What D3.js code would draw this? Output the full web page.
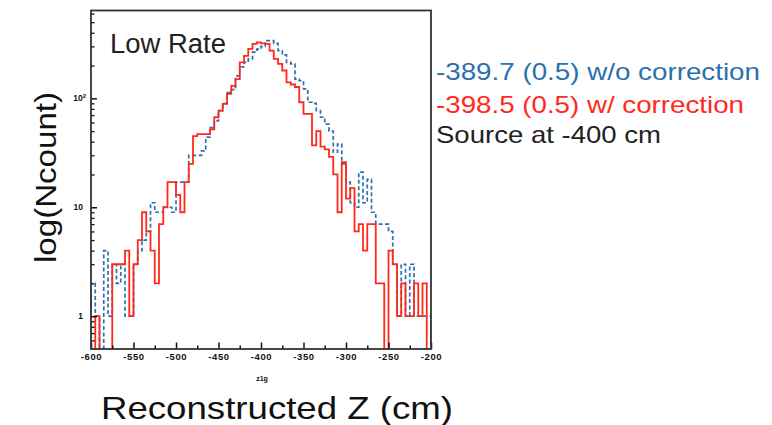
<!DOCTYPE html>
<html><head><meta charset="utf-8">
<script src="https://cdn.jsdelivr.net/npm/d3@7"></script>
<style>body{margin:0;background:#fff}svg{display:block}</style>
</head><body>
<svg id="c" width="772" height="425"></svg>
<script>
// ---- data ----
const xDomain = [-600, -200];
const binWidth = 5;
const countsNoCorr = [
  2,1,0,4,1,3,2,3,1,1,
  3,4,5,6,11,9,9,10,10,9,
  17,17,17,30,30,30,33,44,54,62,
  77,90,113,120,161,194,214,230,265,283,
  300,338,338,320,274,250,214,207,150,145,
  122,92,90,77,67,58,50,32,38,25,
  17,11,10,21,11,18,9,7,7,7,
  6,3,1,3,1,3,1,1,1,1];
const countsCorr = [
  0,1,0,0,0,3,3,3,4,1,
  3,5,9,6,4,2,7,10,17,17,
  13,9,17,25,45,47,47,47,52,67,
  77,89,110,130,150,214,245,285,316,326,
  320,316,274,230,207,180,140,134,127,92,
  72,72,37,50,36,34,29,20,9,26,
  12,15,6,7,4,7,7,2,2,0,
  4,3,1,2,1,1,2,1,2,0];
const xMajorTicks = [-600,-550,-500,-450,-400,-350,-300,-250,-200];
const xMinorTicks = [-575,-525,-475,-425,-375,-325,-275,-225];
const yMajorTicks = [1,10,100];
const yMinorTicks = [0.6,0.7,0.8,0.9,2,3,4,5,6,7,8,9,20,30,40,50,60,70,80,90,200,300,400,500,600];
const yTickText = [{v:1,base:"1",sup:""},{v:10,base:"10",sup:""},{v:100,base:"10",sup:"2"}];
const legendTexts = ["-389.7 (0.5) w/o correction","-398.5 (0.5) w/ correction","Source at -400 cm"];
const colNoCorr = "#2c70ad", colCorr = "#ff2a1c";

// ---- layout ----
const svg = d3.select("#c");
const L = 91, R = 431, T = 10.5, B = 349;
const x = d3.scaleLinear().domain(xDomain).range([L, R]);
const y = d3.scaleLog().domain([0.5, 640]).range([B, T]);

svg.append("defs").append("clipPath").attr("id","fr")
  .append("rect").attr("x",L).attr("y",T).attr("width",R-L).attr("height",B-T);

function histPath(counts){
  const pts = [[x(xDomain[0]), B+2]];
  counts.forEach((c,i)=>{
    const lo = xDomain[0] + i*binWidth, hi = lo + binWidth;
    const yy = c > 0 ? y(c) : B+2;
    pts.push([x(lo), yy]); pts.push([x(hi), yy]);
  });
  pts.push([x(xDomain[0] + counts.length*binWidth), B+2]);
  return d3.line()(pts);
}

const g = svg.append("g").attr("clip-path","url(#fr)");
g.append("path").attr("d", histPath(countsNoCorr)).attr("fill","none")
  .attr("stroke", colNoCorr).attr("stroke-width",1.7).attr("stroke-dasharray","4,2.5");
g.append("path").attr("d", histPath(countsCorr)).attr("fill","none")
  .attr("stroke", colCorr).attr("stroke-width",1.8);

// axes
const axX = svg.append("g").attr("transform",`translate(0,${B})`)
  .call(d3.axisBottom(x).tickValues(xMajorTicks).tickSize(-6.5).tickPadding(4).tickFormat(d=>String(d)));
axX.select(".domain").remove();
axX.selectAll("line").attr("stroke","#111").attr("stroke-width",1.5);
axX.selectAll("text").attr("font-family","Liberation Sans, Arial, sans-serif")
  .attr("font-size",9.5).attr("font-weight","bold").attr("fill","#111").attr("letter-spacing",0.6);
const axXm = svg.append("g").attr("transform",`translate(0,${B})`)
  .call(d3.axisBottom(x).tickValues(xMinorTicks).tickSize(-3.5).tickFormat(""));
axXm.select(".domain").remove();
axXm.selectAll("line").attr("stroke","#111").attr("stroke-width",1.5);

const axY = svg.append("g").attr("transform",`translate(${L},0)`)
  .call(d3.axisLeft(y).tickValues(yMajorTicks).tickSize(-6).tickFormat(""));
axY.select(".domain").remove();
axY.selectAll("line").attr("stroke","#111").attr("stroke-width",1.5);
const axYm = svg.append("g").attr("transform",`translate(${L},0)`)
  .call(d3.axisLeft(y).tickValues(yMinorTicks).tickSize(-3.5).tickFormat(""));
axYm.select(".domain").remove();
axYm.selectAll("line").attr("stroke","#111").attr("stroke-width",1.3);

yTickText.forEach(t=>{
  const tx = svg.append("text").attr("x", t.sup ? 86 : 83).attr("y", y(t.v)+3)
    .attr("text-anchor","end").attr("font-family","Liberation Sans, Arial, sans-serif")
    .attr("font-size",8.5).attr("font-weight","bold").attr("fill","#111");
  tx.append("tspan").text(t.base);
  if (t.sup) tx.append("tspan").attr("dy",-3).attr("font-size",6).text(t.sup);
});

// frame
svg.append("rect").attr("x",L).attr("y",T).attr("width",R-L).attr("height",B-T)
  .attr("fill","none").attr("stroke","#333").attr("stroke-width",1.8);

// small axis title
svg.append("text").attr("x",262).attr("y",381).attr("text-anchor","middle")
  .attr("font-family","Liberation Sans, Arial, sans-serif").attr("font-size",7)
  .attr("font-weight","bold").attr("fill","#111").text("z1g");

// texts
const ff = "Liberation Sans, Arial, Helvetica, sans-serif";
svg.append("text").attr("x",110).attr("y",53).attr("font-family",ff).attr("font-size",27)
  .attr("fill","#222").attr("textLength",116).attr("lengthAdjust","spacingAndGlyphs").text("Low Rate");

const legY = [80, 113, 143], legW = [324, 308, 225], legC = [colNoCorr, colCorr, "#222"];
legendTexts.forEach((t,i)=>{
  svg.append("text").attr("x",436).attr("y",legY[i]).attr("font-family",ff).attr("font-size",24)
    .attr("fill",legC[i]).attr("textLength",legW[i]).attr("lengthAdjust","spacingAndGlyphs").text(t);
});

svg.append("text").attr("transform","translate(56,177.5) rotate(-90)").attr("text-anchor","middle")
  .attr("font-family",ff).attr("font-size",30).attr("fill","#111")
  .attr("textLength",171).attr("lengthAdjust","spacingAndGlyphs").text("log(Ncount)");

svg.append("text").attr("x",101).attr("y",419).attr("font-family",ff).attr("font-size",32)
  .attr("fill","#111").attr("textLength",352).attr("lengthAdjust","spacingAndGlyphs").text("Reconstructed Z (cm)");
</script>
</body></html>
